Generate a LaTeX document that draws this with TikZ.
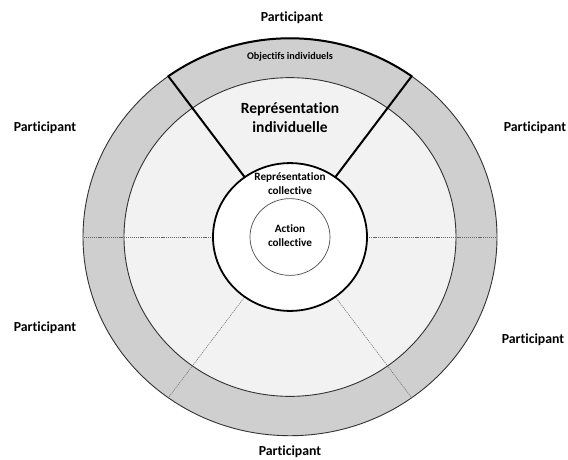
\documentclass[tikz,border=0pt]{standalone}
\usepackage{fontspec}
\setmainfont{Carlito}[Ligatures=NoCommon]
\usetikzlibrary{positioning}
\colorlet{band}{black!19}
\colorlet{zone}{black!5}
\colorlet{rim}{black!80}
\tikzset{part/.style={font=\bfseries\fontsize{13.8}{15}\selectfont},
         txt/.style 2 args={align=center, font=\bfseries\fontsize{#1}{#2}\selectfont},
         sep/.style={draw=black!60, line width=0.5pt, dash pattern=on 1.2pt off 0.9pt},
         heavy/.style={draw=black, line width=2pt, line cap=round}}

\begin{document}
\begin{tikzpicture}[x=1pt, y=1pt]
\useasboundingbox (-290,-222) rectangle (278,237);
\begin{scope}[yscale=0.96]
 % rings
 \fill[band, draw=rim, line width=0.9pt] (0,0) circle (207);
 \fill[zone, draw=rim, line width=0.9pt] (0,0) circle (166);
 % participant borders
 \foreach \a in {0,180,234,306}
   \draw[sep] (\a:77) -- (\a:207);
 \foreach \a in {54,126}
   \draw[heavy] (\a:77) -- (\a:207);
 \draw[heavy] (54:207) arc (54:126:207);
 % shared part
 \fill[white, draw=black, line width=1.8pt] (0,0) circle (77);
 \draw[black!70, line width=0.7pt] (0,0) circle (40);
\end{scope}
\node[txt={10.2}{12}] (obj) at (0,180) {Objectifs individuels};
\node[txt={15.5}{19}] (ri) at (0,119) {Représentation\\individuelle};
\node[txt={11.2}{14}] (rc) at (0,53) {Représentation\\collective};
\node[txt={11.2}{14}] (ac) at (0,1) {Action\\collective};
\node[part] (p1) at (2,219) {Participant};
\node[part] (p2) at (-245,109) {Participant};
\node[part] (p3) at (245,109) {Participant};
\node[part] (p4) at (-245,-91) {Participant};
\node[part] (p5) at (243,-103) {Participant};
\node[part] (p6) at (0,-215) {Participant};
\end{tikzpicture}
\end{document}
